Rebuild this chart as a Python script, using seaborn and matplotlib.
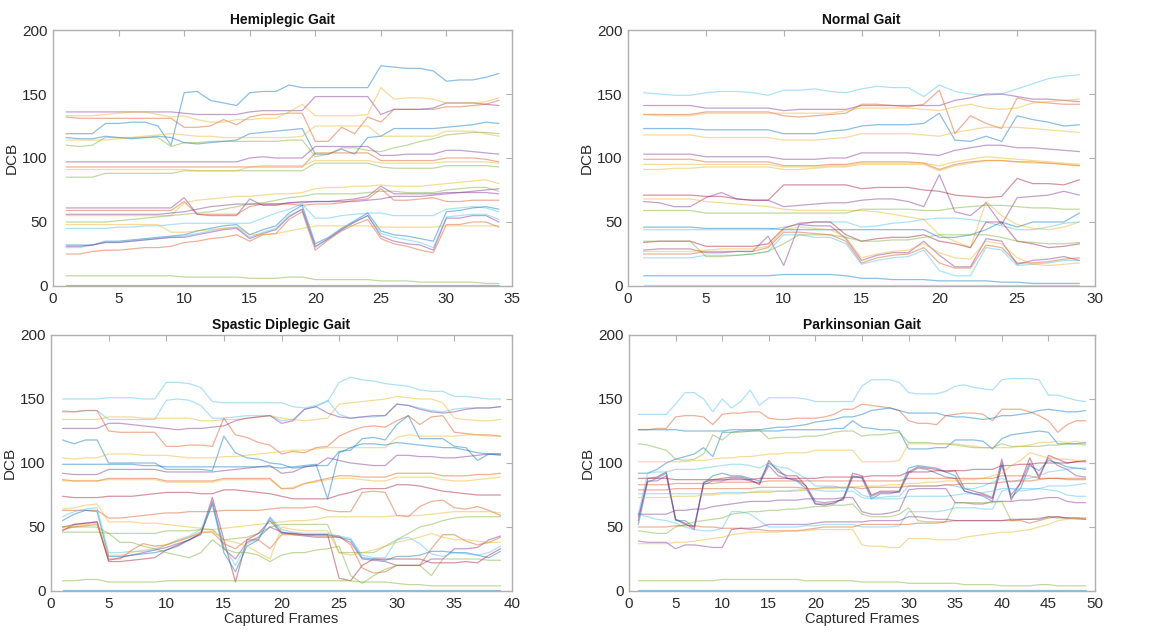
import numpy as np
import matplotlib
matplotlib.use("Agg")
import matplotlib.pyplot as plt
import seaborn as sns

# ---------------- data ----------------
titles = ["Hemiplegic Gait", "Normal Gait", "Spastic Diplegic Gait", "Parkinsonian Gait"]
xmax = [35, 30, 40, 50]

# MATLAB-like colour codes per line
hemi_colors = list("bprybgyprgyprygpcbrcpygb")
hemi_lines = [
    [119,119,119,127,127,128,128,125,110,151,152,145,143,141,151,152,152,157,155,155,155,155,155,155,172,171,170,170,168,160,161,161,163,166],
    [136,136,136,136,136,136,136,136,136,135,134,134,134,134,136,137,137,137,137,148,148,148,148,148,134,138,138,138,139,143,143,143,142,141],
    [132,131,131,131,131,131,131,131,131,124,124,125,130,126,132,134,134,135,135,113,113,124,119,132,128,138,138,138,138,140,140,141,142,145],
    [133,133,133,134,135,136,136,134,132,133,130,128,128,130,130,131,131,136,142,133,133,133,133,134,155,146,147,147,146,143,143,143,144,147],
    [116,115,115,117,116,115,116,117,116,112,111,112,113,114,119,120,121,122,123,103,103,107,103,116,117,123,123,123,123,124,125,126,128,127],
    [110,109,110,116,116,116,116,116,109,112,112,113,113,113,113,113,113,114,114,101,103,108,108,106,105,108,110,113,115,118,119,120,120,119],
    [114,114,114,114,115,116,117,118,119,118,117,117,116,116,116,116,116,116,117,125,125,125,125,125,117,117,117,117,117,121,121,121,119,117],
    [97,97,97,97,97,97,97,97,97,97,97,97,97,97,100,101,100,100,100,109,109,109,109,109,102,102,103,103,103,106,106,105,104,103],
    [93,93,93,93,93,93,93,93,93,93,93,93,93,93,93,93,93,93,93,104,104,104,104,104,98,98,98,98,98,100,100,100,99,97],
    [85,85,85,88,88,88,88,88,88,90,90,90,90,90,90,90,90,90,90,96,96,96,96,96,93,92,92,92,92,94,94,94,94,93],
    [91,91,91,91,91,91,91,91,91,91,90,90,90,90,93,94,94,94,94,98,98,98,98,98,96,96,96,96,96,97,97,97,97,96],
    [61,61,61,61,61,61,61,61,61,69,56,55,55,55,68,63,63,65,65,66,66,67,68,70,78,72,72,72,72,73,73,74,75,76],
    [59,59,59,59,59,59,59,59,59,66,56,56,56,56,62,64,64,64,63,64,64,65,67,68,76,67,67,68,69,66,66,67,67,67],
    [55,55,55,55,55,55,55,55,55,65,67,68,69,70,70,71,72,72,73,76,77,77,78,78,79,78,78,78,79,80,81,82,83,80],
    [50,50,50,50,51,52,53,54,55,56,57,58,60,62,64,65,67,69,70,72,72,72,72,73,74,74,73,73,73,75,76,77,77,74],
    [56,56,56,56,56,56,56,56,57,58,60,62,63,64,64,64,64,65,66,66,66,66,66,67,68,70,70,70,71,72,73,73,73,72],
    [45,45,45,45,46,46,47,47,48,49,49,49,49,49,49,53,57,60,64,53,53,55,56,57,57,55,55,55,55,60,61,62,61,58],
    [32,32,32,35,35,36,37,38,39,40,43,45,47,48,40,44,47,57,63,33,38,45,51,57,43,40,39,37,35,58,59,61,62,60],
    [25,25,27,28,28,29,30,30,31,34,35,37,38,40,35,40,41,52,58,28,36,43,48,52,37,33,31,28,26,48,48,50,50,46],
    [30,30,32,34,34,35,36,37,38,39,41,43,45,46,38,42,45,55,60,30,37,44,50,55,41,38,36,34,30,54,55,56,56,52],
    [31,31,32,34,34,35,36,37,38,38,40,42,44,45,37,41,44,54,60,31,37,44,50,55,39,35,33,32,28,53,53,55,55,50],
    [48,48,48,48,48,48,48,48,42,42,43,44,45,46,40,40,41,43,45,47,47,47,47,47,46,46,46,46,46,47,47,47,47,47],
    [8,8,8,8,8,8,8,8,8,7,7,7,7,7,6,6,6,7,7,5,5,5,5,5,4,4,4,3,3,3,3,3,2,2],
    [1,1,1,1,1,1,1,1,1,1,1,1,1,1,1,1,1,1,1,1,1,1,1,1,1,1,1,1,1,1,1,1,1,1],
]

norm_colors = list("cprybypryympygcbmprcygb")
norm_lines = [
    [151,150,149,149,151,152,152,151,149,153,153,154,152,151,154,156,155,155,148,157,152,150,149,150,154,158,162,164,165],
    [141,141,141,141,139,139,139,139,139,137,138,138,138,138,141,141,141,141,141,141,145,147,150,150,148,146,146,145,144],
    [134,134,134,134,136,136,136,136,136,133,132,133,134,135,142,142,141,140,142,153,119,133,127,123,147,144,143,142,142],
    [134,133,133,133,135,135,135,135,135,135,135,135,135,137,139,139,139,139,138,137,140,142,139,138,139,143,144,145,146],
    [123,123,123,123,122,122,122,122,122,119,119,119,121,122,125,126,126,126,127,135,114,113,117,113,133,130,128,125,126],
    [118,118,118,118,116,116,116,116,116,114,114,114,115,116,119,119,119,119,118,117,120,122,124,124,124,123,122,121,120],
    [103,103,103,103,101,101,101,101,101,99,99,99,100,100,104,104,104,104,103,102,106,108,110,110,108,108,107,106,105],
    [99,99,99,99,97,97,97,97,97,94,94,94,95,95,97,97,97,97,96,91,95,97,98,98,97,97,96,95,94],
    [95,95,95,95,95,95,95,95,95,93,93,93,94,94,96,96,96,96,96,94,97,99,101,100,99,98,97,96,95],
    [91,91,92,92,93,93,93,93,93,91,91,92,93,93,95,95,95,95,95,90,94,96,98,98,97,96,96,95,94],
    [71,71,71,71,70,70,68,67,67,79,79,79,79,79,76,77,77,77,75,74,71,70,69,70,84,80,80,79,83],
    [66,65,62,62,69,73,68,67,67,62,63,64,65,65,67,68,68,66,62,87,58,55,65,48,69,70,71,74,71],
    [68,68,68,68,66,65,64,63,62,60,59,59,59,59,59,58,56,54,52,40,35,30,66,55,48,45,44,46,50],
    [59,59,59,59,57,57,57,57,57,57,57,57,57,57,60,60,60,60,59,59,61,62,63,63,62,61,61,60,60],
    [44,44,44,44,44,44,44,44,44,46,48,50,50,50,46,47,49,50,52,53,53,52,50,47,44,44,46,49,50],
    [46,46,46,46,45,45,45,45,45,44,44,44,44,44,44,44,44,44,44,38,38,40,44,50,46,50,50,50,57],
    [34,35,35,35,31,31,31,31,33,45,49,50,50,40,35,37,38,38,40,35,33,30,50,50,35,33,30,31,33],
    [28,29,29,29,26,26,27,27,39,16,48,47,47,37,20,24,26,26,35,24,15,15,37,35,17,20,21,23,20],
    [25,25,25,25,27,27,27,27,30,42,42,41,40,35,18,22,24,25,30,18,14,14,32,30,18,18,19,21,22],
    [22,22,22,22,24,24,24,25,27,40,40,38,38,33,17,20,22,23,28,12,8,8,30,28,16,17,18,20,20],
    [27,27,27,27,28,29,29,29,31,44,46,45,44,38,22,25,27,28,33,26,22,21,35,33,22,17,16,17,18],
    [35,35,35,35,23,23,24,25,27,33,40,40,40,38,35,35,36,36,38,40,40,40,40,38,35,34,33,33,34],
    [8,8,8,8,8,8,8,8,8,9,9,9,9,8,6,6,5,5,5,4,4,4,4,3,3,2,2,2,2],
    [1,1,1,1,1,1,1,1,1,1,1,1,1,1,1,1,1,1,1,1,1,1,1,1,1,1,1,1,1],
]

spas_colors = list("ccyprbyprybmrygmpbcryggb")
spas_lines = [
    [150,150,150,150,151,151,151,150,150,163,163,162,159,148,147,147,147,147,147,147,144,143,145,148,163,167,165,164,162,161,160,157,156,156,152,152,151,150,150],
    [141,140,141,141,134,134,134,134,134,149,150,149,145,135,135,136,137,137,137,133,134,142,144,149,138,135,136,136,137,146,145,143,141,140,142,143,143,143,144],
    [134,134,134,134,136,136,136,135,135,135,135,135,133,133,134,134,135,136,137,135,134,133,134,135,146,147,148,149,150,152,151,150,150,147,135,134,133,133,134],
    [127,127,127,127,131,131,130,129,128,127,126,127,127,128,129,133,135,136,137,131,133,142,144,139,136,135,136,137,137,146,145,142,140,139,140,142,143,143,144],
    [140,140,141,141,125,124,124,124,124,113,113,114,114,113,135,122,120,116,114,107,109,108,112,113,121,125,128,129,128,133,137,130,136,137,124,123,122,122,121],
    [118,115,118,118,100,100,100,100,100,95,95,95,95,94,121,108,104,103,100,99,96,97,98,98,109,110,119,120,118,130,137,119,119,119,113,112,102,107,106],
    [104,103,104,104,107,107,107,106,106,106,105,104,104,104,105,105,106,107,108,109,110,110,111,112,112,112,112,112,112,120,122,121,121,121,121,122,122,121,121],
    [92,91,91,91,95,95,95,95,95,93,93,93,93,93,94,95,96,97,98,92,93,97,98,104,102,100,99,98,98,106,106,105,105,104,104,105,106,107,107],
    [87,86,86,86,88,88,88,88,88,86,86,86,86,86,88,88,88,88,88,80,80,84,86,88,90,90,89,89,89,92,92,92,92,90,90,90,91,91,92],
    [86,86,86,86,87,87,87,87,87,85,85,85,85,85,87,87,87,87,87,80,81,84,85,87,88,88,87,86,86,89,89,89,89,87,86,86,87,88,89],
    [99,99,99,99,99,99,99,98,98,97,97,97,97,97,97,97,97,97,97,96,97,98,99,72,108,112,115,115,114,116,115,114,113,112,112,110,108,107,107],
    [74,73,73,73,74,74,74,75,76,77,77,77,76,76,79,79,78,77,76,74,72,72,72,72,75,77,80,80,80,83,83,82,80,78,77,76,75,75,75],
    [63,63,63,63,57,57,58,59,60,61,61,62,62,62,63,63,63,63,64,65,65,65,66,63,62,62,77,78,77,59,58,66,70,71,65,64,66,63,59],
    [64,65,67,68,54,54,54,53,53,52,51,50,49,48,49,50,51,52,53,54,55,55,56,58,58,58,58,58,58,59,59,59,60,61,62,62,62,62,61],
    [50,50,50,50,45,45,45,45,45,47,47,47,48,48,40,41,42,45,50,52,52,52,52,52,30,30,30,30,35,40,45,50,52,55,57,58,58,58,58],
    [47,52,53,54,23,23,24,25,26,32,36,40,45,73,40,7,40,45,55,45,45,44,44,44,10,8,20,25,25,25,25,25,22,22,22,23,22,28,33],
    [50,52,53,54,24,26,28,30,32,34,37,40,44,70,33,25,38,42,50,46,44,43,42,42,42,38,25,24,23,20,20,20,25,25,33,33,34,40,43],
    [55,60,63,62,27,27,28,29,30,32,35,40,45,68,30,15,35,40,57,46,45,44,44,44,42,40,26,25,24,27,27,28,31,31,30,30,28,26,31],
    [58,62,64,65,30,30,31,31,32,36,40,43,48,68,35,20,37,41,58,48,46,45,45,45,43,41,28,26,26,40,42,37,29,27,30,29,28,30,35],
    [48,50,51,52,25,25,32,37,35,36,39,42,46,46,37,33,40,40,33,44,44,44,43,43,43,36,18,14,15,20,20,20,33,44,44,39,36,38,42],
    [50,51,52,53,28,28,30,32,33,36,39,42,45,47,40,38,35,30,25,50,48,47,47,47,30,28,30,32,35,38,40,42,45,42,40,40,39,38,38],
    [46,46,46,46,45,38,38,35,33,30,28,26,30,40,33,30,30,28,23,28,30,30,32,33,35,12,6,12,17,20,20,20,12,25,25,25,25,24,24],
    [8,8,9,9,7,7,7,7,7,8,8,8,8,8,8,8,8,8,8,8,8,8,8,8,8,8,7,7,7,6,5,5,4,4,4,4,4,4,4],
    [1,1,1,1,1,1,1,1,1,1,1,1,1,1,1,1,1,1,1,1,1,1,1,1,1,1,1,1,1,1,1,1,1,1,1,1,1,1,1],
]

park_colors = list("crbbgymrmbpcrcypgcrpygb")
park_lines = [
    [138,138,138,138,146,155,155,150,140,150,143,148,157,145,151,151,151,151,150,148,148,148,148,148,160,165,165,165,163,155,154,154,154,156,160,161,159,158,157,165,166,166,166,165,153,153,151,149,148],
    [126,126,127,127,136,137,137,136,130,138,139,139,140,140,135,134,134,135,135,135,136,138,142,142,146,145,144,143,141,133,131,131,130,137,138,139,139,138,133,142,142,142,140,137,133,124,130,133,133],
    [126,126,126,126,126,125,125,125,125,125,126,126,126,126,127,128,128,129,130,132,133,134,136,136,138,141,142,143,141,139,139,139,139,137,136,136,135,134,135,137,137,138,139,141,142,141,140,140,141],
    [92,92,95,100,103,105,107,112,105,124,124,125,125,125,125,125,126,126,126,126,126,127,127,133,128,127,126,126,125,111,111,111,112,112,118,118,118,117,111,119,122,123,124,125,124,115,115,115,116],
    [115,114,112,110,103,102,103,107,122,118,124,124,125,126,119,120,120,120,121,121,122,124,125,125,121,122,122,123,124,116,116,116,115,115,114,113,112,112,112,115,113,113,113,113,114,114,115,115,114],
    [101,101,101,101,101,101,102,102,103,104,104,105,105,106,107,107,108,108,108,110,110,110,110,110,101,101,101,101,102,115,115,115,115,115,115,114,113,112,112,112,112,113,114,116,116,117,116,117,115],
    [88,88,88,88,87,87,87,87,87,87,87,87,87,88,88,88,88,88,88,88,89,89,89,89,89,90,90,90,90,93,93,93,94,94,94,94,95,95,95,98,98,99,99,100,100,100,100,101,102],
    [83,83,83,83,84,84,84,84,84,85,85,85,85,85,86,86,86,86,86,86,86,86,86,86,86,86,86,86,86,88,88,88,88,88,88,88,88,88,88,90,90,90,90,88,88,88,87,87,87],
    [55,88,89,93,56,53,48,85,87,88,89,89,87,83,102,93,90,90,82,68,67,69,72,92,90,75,78,78,78,93,97,96,95,93,94,80,78,76,73,103,71,85,104,88,106,103,100,101,101],
    [52,85,88,92,55,55,50,84,90,92,90,90,88,86,100,95,88,86,80,68,68,68,73,90,88,72,76,76,78,96,98,97,96,93,90,78,76,74,70,100,73,80,98,94,102,100,97,96,95],
    [58,86,86,90,56,52,50,83,86,86,88,88,86,84,98,90,88,87,82,70,69,70,71,89,89,74,77,77,77,92,96,95,92,89,88,78,76,75,72,98,75,84,100,90,104,98,95,90,89],
    [60,92,93,93,95,95,95,96,97,98,99,99,98,96,100,97,96,92,88,82,82,82,80,81,75,73,73,74,74,82,82,82,82,83,82,80,80,82,85,88,85,87,88,90,93,94,95,96,96],
    [79,79,79,79,80,80,80,80,80,80,80,80,80,81,81,81,81,81,80,80,81,81,81,81,80,81,81,81,81,82,82,82,82,83,83,84,84,84,84,85,86,86,86,87,88,88,88,88,88],
    [76,76,76,76,76,76,76,76,76,77,77,77,77,78,78,78,78,79,79,79,78,78,78,78,73,72,72,72,72,74,74,74,74,74,75,76,76,77,78,80,80,80,80,80,79,78,75,74,74],
    [73,73,73,73,74,74,74,75,75,76,76,76,77,77,77,78,78,78,79,80,80,80,81,81,82,82,82,83,83,84,84,85,85,86,86,87,87,88,90,92,98,102,108,106,104,103,103,102,101],
    [60,60,60,60,63,63,64,64,66,67,68,69,70,70,70,71,71,71,72,72,72,72,73,73,62,60,60,61,63,79,80,80,80,80,69,69,68,68,70,70,70,71,71,72,73,73,70,69,69],
    [47,46,45,45,50,52,54,55,56,57,60,61,62,62,63,63,64,64,65,66,66,67,67,68,60,58,58,58,60,65,55,54,54,54,69,69,69,69,69,70,55,56,56,57,58,57,57,56,56],
    [60,58,56,55,53,50,48,47,47,49,62,62,60,55,50,50,50,50,51,51,52,52,52,52,50,50,50,50,51,62,62,62,62,63,65,65,65,64,64,78,80,78,79,80,82,82,82,83,84],
    [50,50,50,50,51,51,51,50,50,49,49,49,48,48,47,47,47,47,48,49,50,50,50,50,52,52,52,52,52,52,53,53,53,54,55,55,55,55,55,55,55,55,53,55,57,58,57,57,57],
    [39,38,38,38,33,36,36,35,34,34,48,49,49,50,52,52,52,52,52,53,54,54,54,54,54,55,55,55,55,58,58,57,56,56,55,55,55,55,55,55,56,56,56,56,58,58,57,57,56],
    [37,37,37,37,38,38,39,40,41,42,44,45,46,46,46,46,47,47,47,48,48,48,48,48,36,35,35,34,34,41,41,41,40,40,40,42,43,44,45,46,46,47,48,50,52,55,56,57,57],
    [8,8,8,8,8,8,8,8,8,9,9,9,9,9,9,9,9,9,8,8,8,8,8,8,7,7,7,7,7,6,6,6,6,6,6,5,5,5,5,4,4,4,4,5,5,4,4,4,4],
    [1,1,1,1,1,1,1,1,1,1,1,1,1,1,1,1,1,1,1,1,1,1,1,1,1,1,1,1,1,1,1,1,1,1,1,1,1,1,1,1,1,1,1,1,1,1,1,1,1],
]

palette = {
    "b": (0.000, 0.447, 0.741),
    "r": (0.850, 0.325, 0.098),
    "y": (0.929, 0.694, 0.125),
    "p": (0.494, 0.184, 0.556),
    "g": (0.466, 0.674, 0.188),
    "c": (0.301, 0.745, 0.933),
    "m": (0.635, 0.078, 0.184),
}

# ---------------- plotting ----------------
sns.set_style("white")
plt.rcParams["font.family"] = ["Liberation Sans", "DejaVu Sans"]

fig = plt.figure(figsize=(11.71, 6.33), dpi=100)
positions = [
    [53/1171, 1-286/633, 459/1171, 256/633],
    [628/1171, 1-286/633, 467/1171, 256/633],
    [51/1171, 1-591/633, 461/1171, 256/633],
    [629/1171, 1-591/633, 466/1171, 256/633],
]
panels = [
    (hemi_lines, hemi_colors),
    (norm_lines, norm_colors),
    (spas_lines, spas_colors),
    (park_lines, park_colors),
]

edge = "#b0b0b0"
txt = "#2a2a2a"
for i, (lines, cols) in enumerate(panels):
    ax = fig.add_axes(positions[i])
    for j, vals in enumerate(lines):
        frames = np.arange(1, len(vals) + 1)
        c = palette[cols[j % len(cols)]]
        sns.lineplot(x=frames, y=vals, ax=ax, color=c, linewidth=0.9, alpha=0.45)
    ax.set_xlim(0, xmax[i])
    ax.set_ylim(0, 200)
    ax.set_xticks(np.arange(0, xmax[i] + 1, 5))
    ax.set_yticks([0, 50, 100, 150, 200])
    ax.tick_params(direction="in", length=4, width=0.8, colors=edge,
                   labelcolor=txt, labelsize=11, top=True, right=True, pad=4)
    for s in ax.spines.values():
        s.set_visible(True)
        s.set_color(edge)
        s.set_linewidth(1.0)
    ax.set_title(titles[i], fontsize=10, fontweight="bold", color="#111111", pad=4)
    ax.set_ylabel("DCB", fontsize=11, color=txt, labelpad=2)
    if i >= 2:
        ax.set_xlabel("Captured Frames", fontsize=10.5, color=txt, labelpad=1)
    else:
        ax.set_xlabel("")

fig.savefig("out.png", dpi=100)
